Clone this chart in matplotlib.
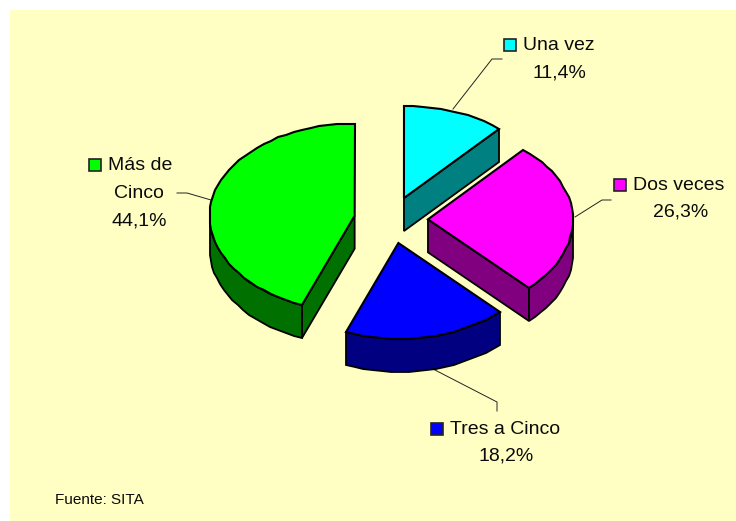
import numpy as np
import matplotlib
matplotlib.use('Agg')
import matplotlib.pyplot as plt
from matplotlib.patches import Polygon, Rectangle

plt.rcParams['font.family'] = ['Liberation Sans', 'DejaVu Sans']

# Data
labels = ['Una vez', 'Dos veces', 'Tres a Cinco', 'Más de\nCinco']
values = [11.4, 26.3, 18.2, 44.1]
top_colors = ['#00FFFF', '#FF00FF', '#0000FF', '#00FF00']
side_colors = ['#008080', '#800080', '#000080', '#007000']
source = 'Fuente: SITA'

# pie geometry, in pixels (near half of the ellipse is a bit deeper)
cx, cy = 391, 220
rx, ry, ry_near = 145, 92, 96
depth = 33
explode = 0.255
text_color = '#0A0A0A'


def rim(a1, a2, x0, y0, step=3.5):
    # clockwise from 12 o'clock, snapped to whole pixels for the jagged edge
    n = max(int(abs(a2 - a1) / step), 1)
    t = np.radians(np.linspace(a1, a2, n + 1))
    c = np.cos(t)
    return np.column_stack([np.round(x0 + rx * np.sin(t)), np.round(y0 - np.where(c > 0, ry, ry_near) * c)])


fig = plt.figure(figsize=(7.36, 5.21), dpi=100, facecolor='white')
ax = fig.add_axes([0, 0, 1, 1])
ax.set_xlim(0, 736)
ax.set_ylim(521, 0)
ax.axis('off')
ax.add_patch(Rectangle((10, 10), 726, 511, fc='#FFFFC4', ec='none', zorder=0))

bounds = np.concatenate([[0], np.cumsum(values)]) / sum(values) * 360
lw = 1.3
for i in [0, 3, 1, 2]:
    a1, a2 = bounds[i], bounds[i + 1]
    mid = np.radians((a1 + a2) / 2)
    x0 = cx + explode * rx * np.sin(mid)
    y0 = cy - explode * ry * np.cos(mid)
    edge = rim(a1, a2, x0, y0)
    down = np.array([0, depth])
    # flat walls that face the viewer
    if np.sin(np.radians(a2)) > 0.01:
        p = edge[-1]
        ax.add_patch(Polygon([(x0, y0), p, p + down, (x0, y0 + depth)], fc=side_colors[i], ec='black', lw=lw, zorder=2))
    if np.sin(np.radians(a1)) < -0.01:
        p = edge[0]
        ax.add_patch(Polygon([(x0, y0), p, p + down, (x0, y0 + depth)], fc=side_colors[i], ec='black', lw=lw, zorder=2))
    # outer wall, only the lower half of the rim shows
    lo, hi = max(a1, 90), min(a2, 270)
    if hi > lo:
        r = rim(lo, hi, x0, y0)
        ax.add_patch(Polygon(np.vstack([r, (r + down)[::-1]]), fc=side_colors[i], ec='black', lw=lw, zorder=2))
    ax.add_patch(Polygon(np.vstack([[(x0, y0)], edge]), fc=top_colors[i], ec='black', lw=lw + 0.2, zorder=3))

# leader lines
leaders = [
    ([453, 492, 502], [109, 59, 59]),
    ([575, 602, 611], [217, 200, 200]),
    ([433, 497, 497], [369, 402, 411]),
    ([211, 187, 177], [200, 193, 193]),
]
for xs, ys in leaders:
    ax.plot(xs, ys, color='#222222', lw=0.7, zorder=1)

# legend key + name + percent
key_x = [504, 614, 431, 89]
key_y = [39, 179, 423, 159]
name_x = [523, 633, 450, 108]
pct_x = [559, 681, 506, 139]
pct_y = [73, 212, 456, 221]
fs = 14
for i in range(4):
    ax.add_patch(Rectangle((key_x[i], key_y[i]), 12, 12, fc=top_colors[i], ec='#222222', lw=1.2, zorder=4))
    pct = f'{values[i]:.1f}'.replace('.', ',') + '%'
    ax.text(pct_x[i], pct_y[i], pct, ha='center', va='center', fontsize=fs, color=text_color)
    parts = labels[i].split('\n')
    ax.text(name_x[i], key_y[i] + 7, parts[0], ha='left', va='center', fontsize=fs, color=text_color)
    if len(parts) > 1:
        ax.text(pct_x[i], key_y[i] + 35, parts[1], ha='center', va='center', fontsize=fs, color=text_color)

ax.text(55, 500, source, ha='left', va='center', fontsize=11, color=text_color)

fig.savefig('out.png', dpi=100, facecolor='white')
